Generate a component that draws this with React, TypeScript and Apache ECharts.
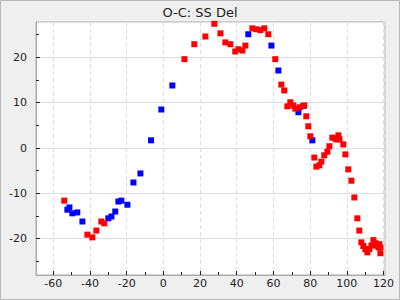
import React, { useEffect, useRef } from "react";
import * as echarts from "echarts";

const titleText = "O-C: SS Del";

const blueX = [-52.3, -51.2, -49.6, -46.9, -44.1, -30.0, -28.3, -26.2, -24.5, -22.9, -19.6, -16.3, -12.5, -6.7, -1.1, 4.9, 46.3, 58.9, 62.7, 73.6, 76.3, 81.2];
const blueY = [-13.6, -13.1, -14.4, -14.2, -16.2, -15.5, -15.1, -14.0, -11.8, -11.6, -12.5, -7.6, -5.6, 1.7, 8.5, 13.8, 25.1, 22.6, 17.1, 7.9, 9.3, 1.7];

const redX = [-54.0, -41.4, -38.7, -36.5, -33.8, -32.2, 11.5, 16.9, 22.9, 27.8, 31.1, 33.8, 36.5, 39.2, 40.9, 43.1, 44.7, 48.5, 50.7, 52.9, 55.0, 57.2, 61.0, 64.3, 65.9, 67.6, 69.2, 70.8, 71.9, 74.4, 76.8, 77.9, 79.0, 80.1, 82.3, 83.4, 85.0, 86.1, 87.7, 89.4, 90.5, 92.1, 93.7, 94.3, 95.4, 96.0, 98.1, 99.2, 100.8, 102.5, 104.1, 105.7, 106.8, 107.9, 109.0, 110.1, 111.2, 112.3, 113.4, 114.5, 115.6, 116.1, 117.2, 117.7, 118.3, 118.3];
const redY = [-11.6, -19.1, -19.7, -18.2, -16.2, -16.6, 19.6, 22.9, 24.6, 27.4, 25.3, 23.3, 22.9, 21.3, 21.8, 21.5, 22.6, 26.4, 26.2, 26.0, 26.4, 25.1, 19.6, 14.0, 12.7, 9.2, 10.1, 9.4, 8.7, 9.0, 9.4, 7.0, 4.8, 2.6, -2.1, -4.1, -3.8, -3.0, -1.6, -0.8, 0.4, 2.3, 2.1, 1.9, 2.8, 1.9, 0.8, -1.4, -4.7, -7.2, -10.9, -15.5, -18.2, -20.8, -21.6, -22.3, -23.0, -22.3, -21.5, -20.3, -21.0, -21.5, -21.9, -21.2, -21.9, -23.2];

const xMinorTicks = [-50, -30, -10, 10, 30, 50, 70, 90, 110];
const yMinorTicks = [-25, -15, -5, 5, 15, 25];

const X_MIN = -69.4;
const X_MAX = 120.8;
const Y_MIN = -28;
const Y_MAX = 27.8;

const FONT = "DejaVu Sans";

export default function App() {
  const ref = useRef<HTMLDivElement>(null);
  useEffect(() => {
    if (!ref.current) return;
    const chart = echarts.init(ref.current, undefined, { renderer: "svg" });
    const blueData = blueX.map((x, i) => [x, blueY[i]]);
    const redData = redX.map((x, i) => [x, redY[i]]);
    chart.setOption({
      animation: false,
      backgroundColor: "#efefef",
      title: {
        text: titleText,
        left: "center",
        top: 1,
        textStyle: { fontFamily: FONT, fontSize: 13, fontWeight: "normal", color: "#222" },
      },
      graphic: [
        {
          type: "rect",
          shape: { x: 0.5, y: 0.5, width: 399, height: 299 },
          style: { fill: "none", stroke: "#b8b8b8", lineWidth: 1 },
          silent: true,
          z: 100,
        },
      ],
      grid: {
        left: 36,
        right: 15,
        top: 22,
        bottom: 25,
        show: true,
        backgroundColor: "#ffffff",
        borderColor: "#aaaaaa",
        borderWidth: 1,
      },
      xAxis: [
        {
          type: "value",
          min: X_MIN,
          max: X_MAX,
          splitNumber: 10,
          axisLine: { show: true, onZero: false, lineStyle: { color: "#aaaaaa" } },
          axisTick: { show: true, inside: true, length: 4, lineStyle: { color: "#222" } },
          axisLabel: {
            showMinLabel: false,
            showMaxLabel: false,
            margin: 3,
            fontFamily: FONT,
            fontSize: 11,
            color: "#222",
          },
          splitLine: { show: true, lineStyle: { color: "#dddddd", type: [4, 3] } },
        },
        {
          type: "value",
          position: "bottom",
          min: X_MIN,
          max: X_MAX,
          axisLine: { show: false, onZero: false },
          axisTick: { show: true, inside: true, length: 3, customValues: xMinorTicks, lineStyle: { color: "#222" } },
          axisLabel: { show: false },
          splitLine: { show: false },
        },
      ],
      yAxis: [
        {
          type: "value",
          min: Y_MIN,
          max: Y_MAX,
          splitNumber: 5,
          axisLine: { show: true, onZero: false, lineStyle: { color: "#aaaaaa" } },
          axisTick: { show: true, inside: true, length: 4, lineStyle: { color: "#222" } },
          axisLabel: {
            showMinLabel: false,
            showMaxLabel: false,
            margin: 9,
            fontFamily: FONT,
            fontSize: 11,
            color: "#222",
          },
          splitLine: { show: true, lineStyle: { color: "#dddddd", type: "solid" } },
        },
        {
          type: "value",
          position: "left",
          min: Y_MIN,
          max: Y_MAX,
          axisLine: { show: false, onZero: false },
          axisTick: { show: true, inside: true, length: 3, customValues: yMinorTicks, lineStyle: { color: "#222" } },
          axisLabel: { show: false },
          splitLine: { show: false },
        },
      ],
      series: [
        {
          type: "scatter",
          xAxisIndex: 0,
          yAxisIndex: 0,
          data: blueData,
          symbol: "rect",
          symbolSize: 6,
          itemStyle: { color: "#0000ff", opacity: 1 },
        },
        {
          type: "scatter",
          xAxisIndex: 0,
          yAxisIndex: 0,
          data: redData,
          symbol: "rect",
          symbolSize: 6,
          itemStyle: { color: "#ff0000", opacity: 1 },
        },
      ],
    });
    return () => chart.dispose();
  }, []);
  return (
    <div
      ref={ref}
      style={{ position: "absolute", left: 0, top: 0, width: 400, height: 300 }}
    />
  );
}
